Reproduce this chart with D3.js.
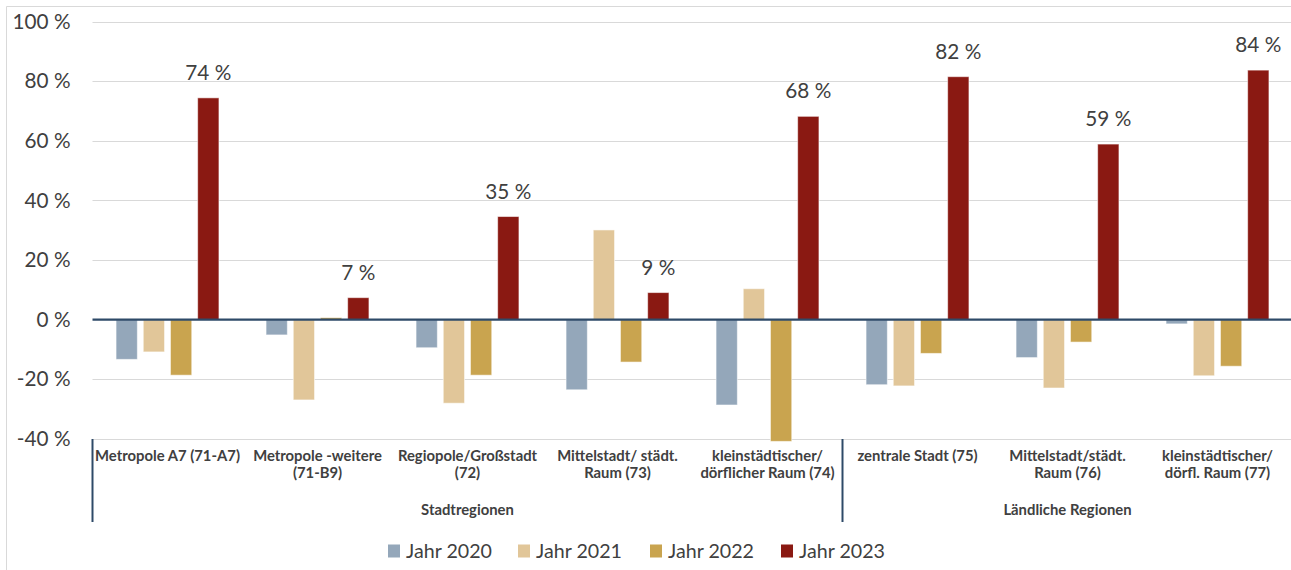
<!DOCTYPE html>
<html>
<head>
<meta charset="utf-8">
<script src="https://cdn.jsdelivr.net/npm/d3@7"></script>
<style>
  html, body { margin: 0; padding: 0; background: #fff; }
  svg { display: block; }
  text { font-family: Lato, "Open Sans", sans-serif; fill: #404040; }
</style>
</head>
<body>
<svg id="chart" width="1291" height="570"></svg>
<script>
// ---- data ----
const categories = [
  ["Metropole A7 (71-A7)"],
  ["Metropole -weitere", "(71-B9)"],
  ["Regiopole/Großstadt", "(72)"],
  ["Mittelstadt/ städt.", "Raum (73)"],
  ["kleinstädtischer/", "dörflicher Raum (74)"],
  ["zentrale Stadt (75)"],
  ["Mittelstadt/städt.", "Raum (76)"],
  ["kleinstädtischer/", "dörfl. Raum (77)"]
];
const groups = ["Stadtregionen", "Ländliche Regionen"];
const groupSizes = [5, 3];
const series = ["Jahr 2020", "Jahr 2021", "Jahr 2022", "Jahr 2023"];
const colors = ["#94A7BA", "#E1C699", "#C9A44F", "#8A1912"];
const y2020 = [-13.3, -5.1, -9.4, -23.5, -28.6, -21.8, -12.7, -1.4];
const y2021 = [-10.8, -26.9, -28.0, 30.1, 10.4, -22.2, -22.9, -18.8];
const y2022 = [-18.6, 0.7, -18.6, -14.2, -40.8, -11.3, -7.5, -15.6];
const y2023 = [74.4, 7.4, 34.6, 9.1, 68.2, 81.5, 58.9, 83.7];
const yTicks = [-40, -20, 0, 20, 40, 60, 80, 100];
const values = [y2020, y2021, y2022, y2023];

// ---- layout ----
const svg = d3.select("#chart");
const mLeft = 92.5, mRight = 1292.5, mTop = 21.5, mBottom = 439;

// measure helper to fit font sizes to reference widths
const meas = svg.append("text").attr("x", -1000).attr("y", -1000);
function fit(str, target, weight) {
  meas.attr("font-weight", weight).attr("font-size", 100).text(str);
  const w = meas.node().getComputedTextLength();
  return 100 * target / w;
}
const fsTick = fit("100 %", 58, 400);
const fsLabel = fit("74 %", 46, 400);
const fsCat = fit("Metropole A7 (71-A7)", 145, 700);
const fsLeg = fit("Jahr 2020", 86, 400);
meas.remove();

const y = d3.scaleLinear().domain([-40, 100]).range([mBottom, mTop]);
const x0 = d3.scaleBand().domain(d3.range(categories.length)).range([mLeft, mRight]);
const x1 = d3.scaleBand().domain(series).range([-54.4, 54.4]).paddingInner(0.217).paddingOuter(0.1085);

// outer border
svg.append("path").attr("d", "M6.5,570 V6.5 H1291").attr("fill", "none").attr("stroke", "#D9D9D9").attr("stroke-width", 1);

// gridlines
svg.append("g").selectAll("line").data(yTicks.filter(t => t !== 0)).join("line")
  .attr("x1", mLeft).attr("x2", mRight)
  .attr("y1", d => Math.round(y(d)) + 0.5).attr("y2", d => Math.round(y(d)) + 0.5)
  .attr("stroke", "#D9D9D9").attr("stroke-width", 1);

// y tick labels via axis
const yAxis = svg.append("g").attr("transform", `translate(${mLeft},0)`)
  .call(d3.axisLeft(y).tickValues(yTicks).tickSize(0).tickPadding(22).tickFormat(d => d + " %"));
yAxis.select(".domain").remove();
yAxis.selectAll("text").attr("font-size", fsTick).attr("fill", "#404040")
  .style("font-family", "Lato, 'Open Sans', sans-serif");

// bars
const cg = svg.append("g").selectAll("g").data(categories).join("g")
  .attr("transform", (d, i) => `translate(${x0(i) + x0.bandwidth() / 2},0)`);
cg.selectAll("rect").data((d, i) => series.map((s, k) => ({ s, k, v: values[k][i] }))).join("rect")
  .attr("x", d => x1(d.s))
  .attr("width", x1.bandwidth())
  .attr("y", d => y(Math.max(0, d.v)))
  .attr("height", d => Math.abs(y(d.v) - y(0)))
  .attr("fill", d => colors[d.k])
  .attr("stroke", "rgba(255,255,255,0.55)").attr("stroke-width", 1);

// data labels for 2023
cg.append("text")
  .attr("x", x1(series[3]) + x1.bandwidth() / 2)
  .attr("y", (d, i) => y(y2023[i]) - 18)
  .attr("text-anchor", "middle")
  .attr("font-size", fsLabel)
  .text((d, i) => Math.round(y2023[i]) + " %");

// zero line
svg.append("line").attr("x1", mLeft).attr("x2", mRight)
  .attr("y1", y(0)).attr("y2", y(0))
  .attr("stroke", "#2E4A68").attr("stroke-width", 2.2);

// category labels
cg.append("text").attr("text-anchor", "middle").attr("font-weight", 700).attr("font-size", fsCat)
  .selectAll("tspan").data(d => d).join("tspan")
  .attr("x", 0).attr("y", (d, j) => 461 + j * 17).text(d => d);

// group separators and labels
let acc = 0;
const bounds = [0];
groupSizes.forEach(n => { acc += n; bounds.push(acc); });
svg.append("g").selectAll("line").data(bounds).join("line")
  .attr("x1", b => b < categories.length ? x0(b) : mRight)
  .attr("x2", b => b < categories.length ? x0(b) : mRight)
  .attr("y1", mBottom).attr("y2", 522)
  .attr("stroke", "#2E4A68").attr("stroke-width", 2);
svg.append("g").selectAll("text").data(groups).join("text")
  .attr("x", (g, i) => {
    const a = x0(bounds[i]);
    const b = bounds[i + 1] < categories.length ? x0(bounds[i + 1]) : mRight;
    return (a + b) / 2;
  })
  .attr("y", 515).attr("text-anchor", "middle").attr("font-weight", 700).attr("font-size", fsCat)
  .text(g => g);

// legend
const legX = [388, 518, 650, 781];
const lg = svg.append("g").selectAll("g").data(series).join("g")
  .attr("transform", (d, i) => `translate(${legX[i]},0)`);
lg.append("rect").attr("x", 0).attr("y", 544.5).attr("width", 12).attr("height", 13)
  .attr("fill", (d, i) => colors[i]);
lg.append("text").attr("x", 18).attr("y", 558).attr("font-size", fsLeg).text(d => d);
</script>
</body>
</html>
